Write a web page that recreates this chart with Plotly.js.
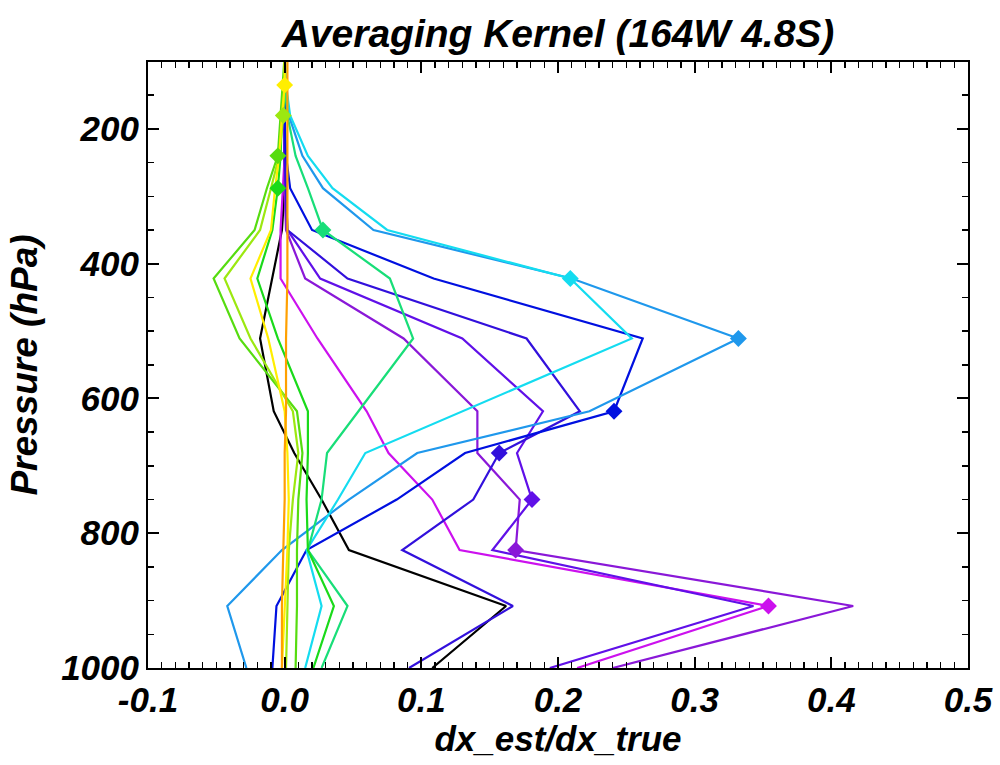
<!DOCTYPE html>
<html>
<head>
<meta charset="utf-8">
<script src="https://cdn.plot.ly/plotly-3.0.1.min.js"></script>
<style>html,body{margin:0;padding:0;background:#fff;}#chart{width:1000px;height:765px;}</style>
</head>
<body>
<div id="chart"></div>
<script>
// Pressure levels (hPa), bottom to top
const levels = [1000, 908, 825, 750, 681, 619, 511, 422, 350, 288, 240, 180, 135, 90];

// Averaging kernel rows (dx_est/dx_true) at each level
const kBlack    = [0.108, 0.162, 0.047, 0.027, 0.007, -0.008, -0.018, -0.009, -0.002, 0.000, 0.000, 0.000, 0.000, 0.000];
const kMagenta  = [0.214, 0.354, 0.128, 0.108, 0.076, 0.060, 0.024, -0.003, -0.003, -0.001, 0.000, 0.000, 0.000, 0.000];
const kPurple   = [0.240, 0.416, 0.169, 0.172, 0.141, 0.141, 0.087, 0.015, 0.001, 0.000, 0.000, 0.000, 0.000, 0.000];
const kViolet   = [0.194, 0.343, 0.152, 0.181, 0.170, 0.189, 0.130, 0.026, 0.002, 0.001, 0.000, 0.000, 0.000, 0.000];
const kBViolet  = [0.091, 0.167, 0.086, 0.138, 0.157, 0.216, 0.177, 0.046, 0.002, 0.001, 0.000, 0.000, 0.000, 0.000];
const kBlue     = [-0.009, -0.006, 0.016, 0.082, 0.132, 0.241, 0.262, 0.109, 0.020, 0.004, 0.001, 0.000, 0.000, 0.000];
const kDodger   = [-0.028, -0.042, -0.002, 0.047, 0.097, 0.223, 0.332, 0.210, 0.065, 0.028, 0.013, 0.003, 0.001, 0.000];
const kCyan     = [0.015, 0.027, 0.016, 0.039, 0.059, 0.130, 0.254, 0.209, 0.075, 0.035, 0.017, 0.004, 0.001, 0.000];
const kSpring   = [0.027, 0.046, 0.017, 0.027, 0.031, 0.054, 0.094, 0.077, 0.028, 0.017, 0.008, 0.002, 0.000, 0.000];
const kGreen    = [0.021, 0.036, 0.017, 0.016, 0.017, 0.017, -0.005, -0.020, -0.009, -0.005, -0.003, -0.002, 0.000, 0.000];
const kChart    = [0.008, 0.009, 0.009, 0.010, 0.013, 0.009, -0.033, -0.052, -0.022, -0.013, -0.005, -0.003, -0.001, 0.000];
const kYGreen   = [0.001, 0.002, 0.003, 0.006, 0.010, 0.006, -0.025, -0.044, -0.018, -0.010, -0.004, -0.001, 0.000, 0.000];
const kYellow   = [-0.002, 0.000, 0.002, 0.003, 0.002, 0.000, -0.012, -0.025, -0.010, -0.007, -0.004, -0.002, 0.000, 0.000];
const kOrange   = [-0.002, -0.002, -0.001, 0.000, 0.000, 0.001, 0.001, 0.002, 0.002, 0.002, 0.002, 0.002, 0.002, 0.002];

// Index of each kernel's own level (diamond marker); -1 = none drawn
const seriesList = [
  {name: 'sfc',  k: kBlack,   color: '#000000', own: -1},
  {name: '908',  k: kMagenta, color: '#cc11ee', own: 1},
  {name: '825',  k: kPurple,  color: '#8a18d8', own: 2},
  {name: '750',  k: kViolet,  color: '#6010e8', own: 3},
  {name: '681',  k: kBViolet, color: '#3210dc', own: 4},
  {name: '619',  k: kBlue,    color: '#0010e0', own: 5},
  {name: '511',  k: kDodger,  color: '#1f98ec', own: 6},
  {name: '422',  k: kCyan,    color: '#14dcf0', own: 7},
  {name: '350',  k: kSpring,  color: '#18de78', own: 8},
  {name: '288',  k: kGreen,   color: '#1ada1a', own: 9},
  {name: '240',  k: kChart,   color: '#56dc10', own: 10},
  {name: '180',  k: kYGreen,  color: '#9ce810', own: 11},
  {name: '135',  k: kYellow,  color: '#ffee00', own: 12},
  {name: 'top',  k: kOrange,  color: '#ffa000', own: -1}
];

const xTickVals = [-0.1, 0.0, 0.1, 0.2, 0.3, 0.4, 0.5];
const xTickText = ['-0.1', '0.0', '0.1', '0.2', '0.3', '0.4', '0.5'];
const yTickVals = [200, 400, 600, 800, 1000];
const yTickText = ['200', '400', '600', '800', '1000'];

const FONT = 'Liberation Sans, Arial, sans-serif';

const traces = [];
seriesList.forEach(s => {
  traces.push({
    type: 'scatter', mode: 'lines', x: s.k, y: levels,
    line: {color: s.color, width: 2.2}, hoverinfo: 'skip', showlegend: false
  });
});
seriesList.forEach(s => {
  if (s.own >= 0) {
    traces.push({
      type: 'scatter', mode: 'markers', x: [s.k[s.own]], y: [levels[s.own]],
      marker: {symbol: 'diamond', size: 13, color: s.color, line: {width: 0}},
      hoverinfo: 'skip', showlegend: false, cliponaxis: true
    });
  }
});

const axisCommon = {
  showline: true, linecolor: '#000', linewidth: 2, mirror: 'allticks',
  ticks: 'inside', ticklen: 11, tickwidth: 2, tickcolor: '#000',
  showgrid: false, zeroline: false,
  tickfont: {family: FONT, size: 35, color: '#000', weight: 'bold', style: 'italic'}
};

const layout = {
  width: 1000, height: 765,
  margin: {l: 148, r: 32, t: 62, b: 97},
  paper_bgcolor: '#fff', plot_bgcolor: '#fff',
  title: {
    text: 'Averaging Kernel (164W 4.8S)',
    font: {family: FONT, size: 39, color: '#000', weight: 'bold', style: 'italic'},
    x: 0.5, xref: 'paper', xanchor: 'center', y: 0.957, yref: 'container', yanchor: 'middle'
  },
  xaxis: Object.assign({}, axisCommon, {
    range: [-0.1, 0.5], tickmode: 'array', tickvals: xTickVals, ticktext: xTickText,
    minor: {dtick: 0.01, ticks: 'inside', ticklen: 6, tickwidth: 1.5, tickcolor: '#000', showgrid: false},
    title: {text: 'dx_est/dx_true', standoff: 6,
      font: {family: FONT, size: 35, color: '#000', weight: 'bold', style: 'italic'}}
  }),
  yaxis: Object.assign({}, axisCommon, {
    range: [1000, 100.7], tickmode: 'array', tickvals: yTickVals, ticktext: yTickText,
    minor: {dtick: 50, tick0: 0, ticks: 'inside', ticklen: 6, tickwidth: 1.5, tickcolor: '#000', showgrid: false},
    title: {text: 'Pressure (hPa)', standoff: 12,
      font: {family: FONT, size: 37, color: '#000', weight: 'bold', style: 'italic'}}
  })
};

Plotly.newPlot('chart', traces, layout, {displayModeBar: false, staticPlot: true});
</script>
</body>
</html>
